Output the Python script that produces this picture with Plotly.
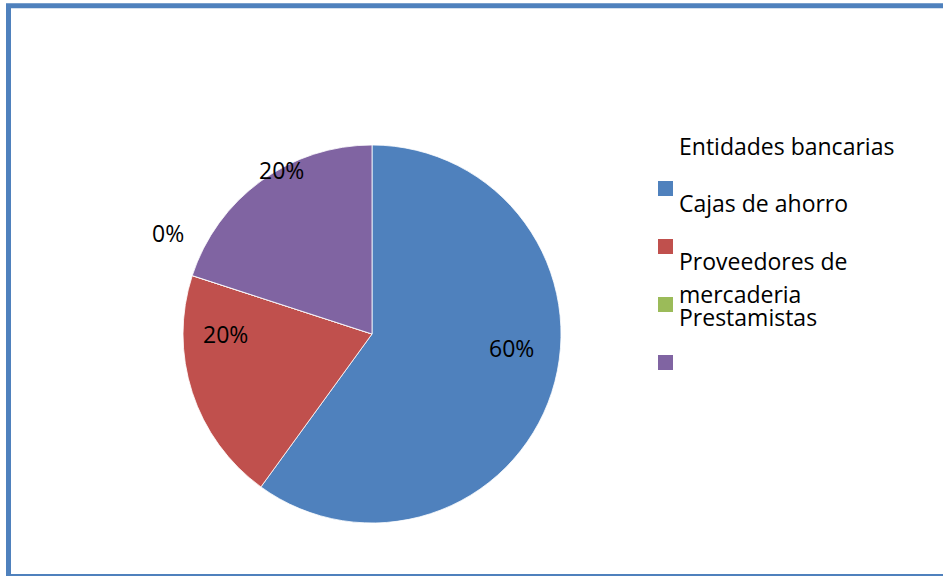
import plotly.graph_objects as go

# ---- data ----
categories = ["Entidades bancarias", "Cajas de ahorro", "Proveedores de mercaderia", "Prestamistas"]
values = [60, 20, 0, 20]
colors = ["#4F81BD", "#C0504D", "#9BBB59", "#8064A2"]
legend_lines = ["Entidades bancarias", "Cajas de ahorro", "Proveedores de", "mercaderia", "Prestamistas"]

W, H = 943, 576
FONT = "Open Sans"
FS = 23

def px(x):
    return x / W

def py(y):
    return 1 - y / H

fig = go.Figure()

cx, cy, r = 372, 334, 189
fig.add_trace(go.Pie(
    labels=categories,
    values=values,
    sort=False,
    direction="clockwise",
    rotation=0,
    marker=dict(colors=colors, line=dict(color="#FFFFFF", width=0.8)),
    textinfo="none",
    hoverinfo="label+percent",
    showlegend=False,
    domain=dict(x=[px(cx - r), px(cx + r)], y=[py(cy + r), py(cy - r)]),
))

total = sum(values)
# data label centres (pixels), one per slice
label_pos = [(511, 348), (225, 334), (168, 233), (281, 170)]
annotations = []
for v, (lx, ly) in zip(values, label_pos):
    annotations.append(dict(
        x=px(lx), y=py(ly), xref="paper", yref="paper",
        text=f"{round(100 * v / total)}%", showarrow=False,
        xanchor="center", yanchor="middle",
        font=dict(family=FONT, size=FS, color="#000000"),
    ))

# custom legend
text_y = [146, 203, 261, 294, 317]
for t, ty in zip(legend_lines, text_y):
    annotations.append(dict(
        x=px(677), y=py(ty), xref="paper", yref="paper",
        text=t, showarrow=False, xanchor="left", yanchor="middle",
        font=dict(family=FONT, size=FS, color="#000000"),
    ))

shapes = []
marker_y = [181, 239, 297, 355]
for c, my in zip(colors, marker_y):
    shapes.append(dict(
        type="rect", xref="paper", yref="paper",
        x0=px(658), x1=px(673), y0=py(my + 15), y1=py(my),
        fillcolor=c, line=dict(width=0),
    ))

# outer frame
shapes.append(dict(
    type="rect", xref="paper", yref="paper",
    x0=px(8.5), x1=px(946), y0=py(576.5), y1=py(5.8),
    line=dict(color="#4F81BD", width=5), fillcolor="rgba(0,0,0,0)",
))

fig.update_layout(
    width=W, height=H,
    margin=dict(l=0, r=0, t=0, b=0),
    paper_bgcolor="#FFFFFF",
    plot_bgcolor="#FFFFFF",
    annotations=annotations,
    shapes=shapes,
    font=dict(family=FONT),
)

fig.write_html(
    "out.html",
    config={"displayModeBar": False},
    post_script="document.body.style.margin='0';document.body.style.overflow='hidden';",
)
